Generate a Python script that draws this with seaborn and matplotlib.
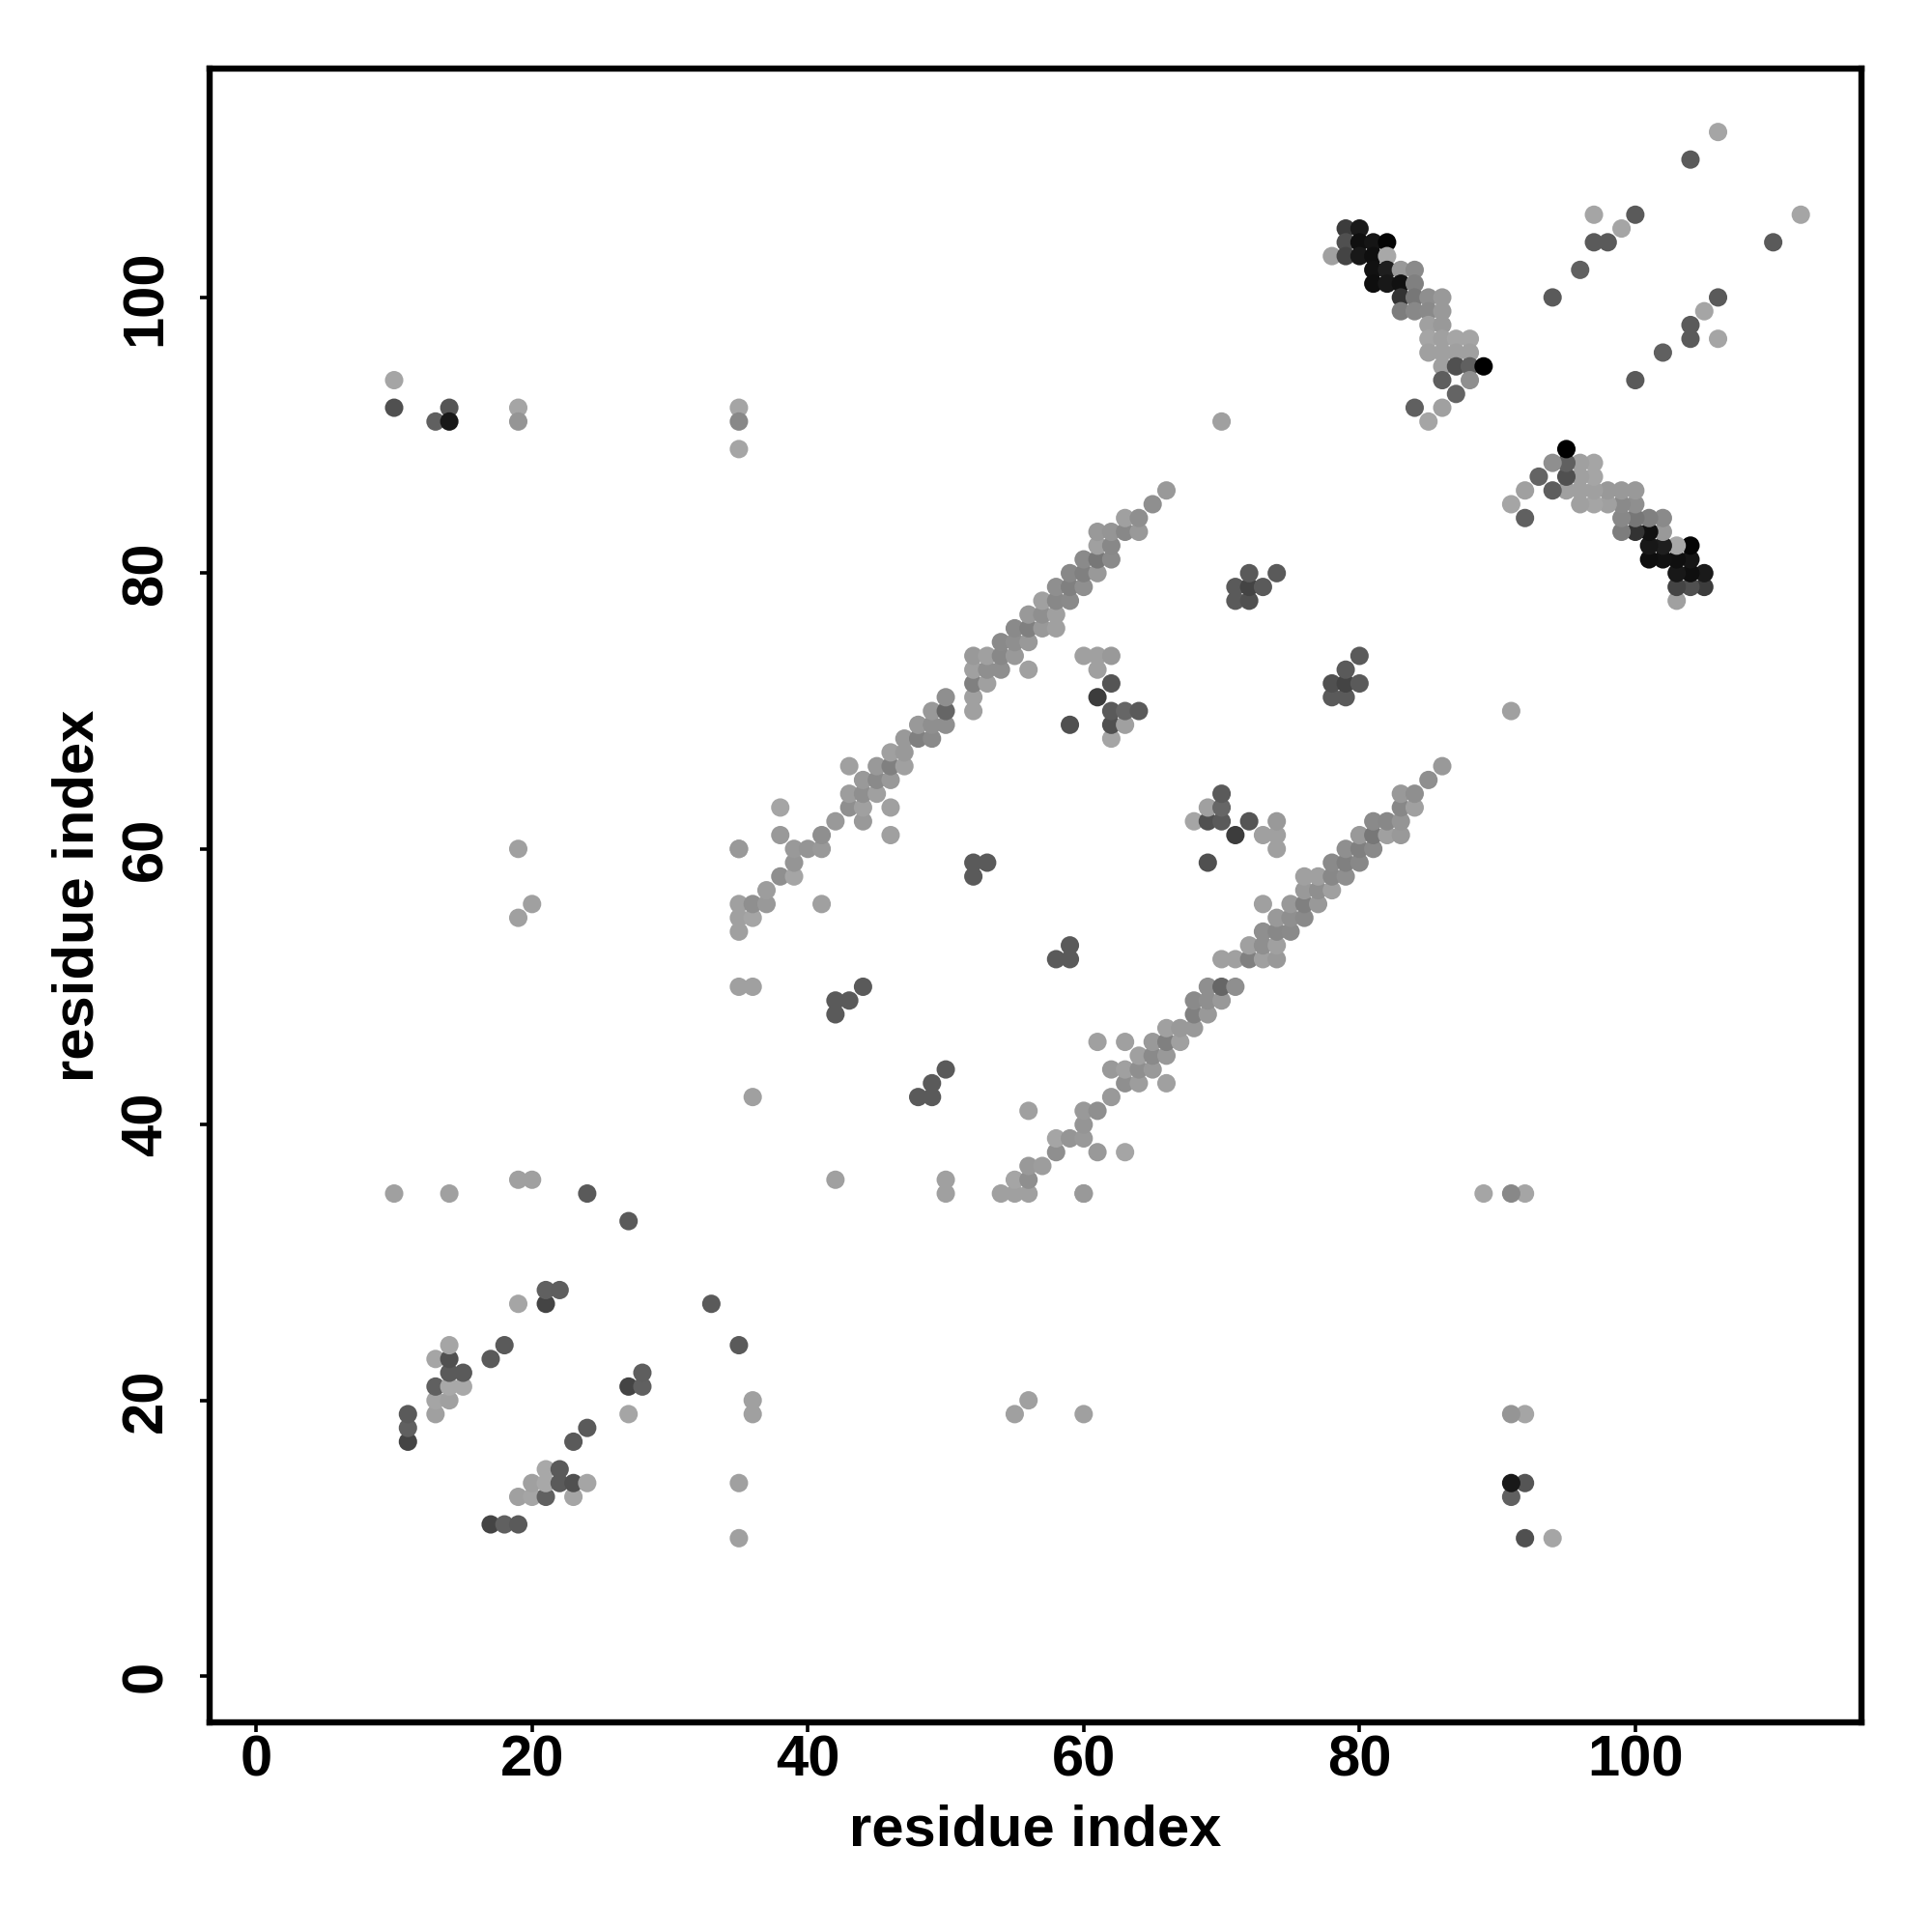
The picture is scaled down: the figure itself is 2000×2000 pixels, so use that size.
import numpy as np
import pandas as pd
import seaborn as sns
from matplotlib import pyplot as plt
from matplotlib.colors import LinearSegmentedColormap

# contacts are symmetric, only a < b is listed. score is darkness 0-255
# long range / scattered contacts
far_a = [10, 10, 13, 14, 14, 19, 19, 35, 35, 35, 70,
         10, 14, 19, 20, 24, 27, 36, 36, 35,
         19, 20, 19, 35]
far_b = [94, 92, 91, 92, 91, 92, 91, 92, 91, 89, 91,
         35, 35, 36, 36, 35, 33, 42, 50, 50,
         55, 56, 60, 60]
far_s = [90, 175, 159, 170, 231, 90, 106, 90, 119, 90, 95,
         95, 95, 95, 95, 165, 165, 95, 95, 95,
         95, 95, 95, 95]

# bottom left corner
low_a = [11, 11, 11, 13, 13, 13, 13, 14, 14, 14, 14, 14, 15, 15, 17, 18, 19, 21, 21, 22]
low_b = [17, 18, 19, 19, 20, 21, 23, 20, 21, 22, 23, 24, 21, 22, 23, 24, 27, 27, 28, 28]
low_s = [187, 159, 165, 95, 90, 159, 90, 95, 87, 165, 175, 90, 87, 165, 165, 165, 90, 187, 159, 161]

# dark islands between the bands
mid_a = [42, 42, 43, 44, 52, 52, 53, 59, 61, 62, 62, 62, 62, 63, 63, 64,
         71, 71, 72, 72, 72, 73, 74, 60, 61, 62, 61]
mid_b = [48, 49, 49, 50, 58, 59, 59, 69, 71, 68, 69, 70, 72, 69, 70, 70,
         78, 79, 78, 79, 80, 79, 80, 74, 74, 74, 73]
mid_s = [165, 165, 165, 165, 165, 165, 165, 175, 195, 90, 175, 165, 170, 95, 153, 165,
         165, 165, 175, 187, 165, 165, 165, 95, 95, 102, 95]

# long diagonal band, one line per residue b
band_a = [35,
          35, 36,
          35, 36, 37, 41,
          37,
          38, 39,
          39,
          35, 39, 40, 41,
          38, 41, 46,
          42, 44,
          38, 43, 44, 46,
          43, 44, 45,
          44, 45, 46,
          43, 45, 46, 47,
          46, 47,
          47, 48, 49,
          48, 49, 50,
          49, 50, 52,
          50, 52,
          52, 53,
          52, 53, 54, 56,
          52, 53, 54, 55,
          54, 55, 56,
          55, 56, 57, 58,
          56, 57, 58,
          57, 58, 59,
          58, 59, 60,
          59, 60, 61,
          60, 61, 62,
          61, 62,
          61, 62, 63, 64,
          63, 64,
          65,
          66]
band_b = [54,
          55, 55,
          56, 56, 56, 56,
          57,
          58, 58,
          59,
          60, 60, 60, 60,
          61, 61, 61,
          62, 62,
          63, 63, 63, 63,
          64, 64, 64,
          65, 65, 65,
          66, 66, 66, 66,
          67, 67,
          68, 68, 68,
          69, 69, 69,
          70, 70, 70,
          71, 71,
          72, 72,
          73, 73, 73, 73,
          74, 74, 74, 74,
          75, 75, 75,
          76, 76, 76, 76,
          77, 77, 77,
          78, 78, 78,
          79, 79, 79,
          80, 80, 80,
          81, 81, 81,
          82, 82,
          83, 83, 83, 83,
          84, 84,
          85,
          86]
band_s = [95,
          95, 90,
          95, 112, 102, 95,
          98,
          112, 90,
          106,
          102, 102, 106, 102,
          102, 112, 95,
          102, 102,
          90, 112, 95, 95,
          98, 112, 95,
          102, 117, 102,
          95, 102, 127, 95,
          95, 102,
          102, 127, 117,
          102, 112, 112,
          102, 153, 95,
          112, 95,
          127, 95,
          95, 112, 112, 95,
          102, 95, 119, 102,
          117, 112, 102,
          117, 127, 102, 95,
          102, 112, 95,
          95, 119, 117,
          112, 127, 112,
          119, 127, 102,
          117, 136, 117,
          95, 119,
          102, 106, 119, 102,
          95, 112,
          112,
          102]

# strong hairpin near the top right, one line per residue b
pin_a = [79, 80,
         79, 80, 81, 82,
         78, 79, 80, 81, 82,
         81, 82, 83, 84,
         81, 82, 83, 84,
         83, 84, 85, 86,
         83, 84, 85, 86,
         85, 86,
         85, 86, 87, 88,
         85, 86, 87, 88,
         86, 87, 88, 89,
         86, 88,
         87,
         84, 86,
         85,
         94, 96, 97, 98, 97, 99, 100, 104, 106]
pin_b = [105, 105,
         104, 104, 104, 104,
         103, 103, 103, 103, 103,
         102, 102, 102, 102,
         101, 101, 101, 101,
         100, 100, 100, 100,
         99, 99, 99, 99,
         98, 98,
         97, 97, 97, 97,
         96, 96, 96, 96,
         95, 95, 95, 95,
         94, 94,
         93,
         92, 92,
         91,
         100, 102, 104, 104, 106, 105, 106, 110, 112]
pin_s = [195, 229,
         175, 240, 234, 250,
         95, 187, 231, 240, 87,
         238, 225, 102, 117,
         241, 231, 238, 127,
         204, 136, 112, 102,
         130, 119, 117, 102,
         95, 102,
         90, 95, 90, 90,
         95, 95, 95, 95,
         95, 175, 159, 255,
         161, 112,
         155,
         159, 95,
         90,
         165, 159, 165, 165, 90, 90, 165, 165, 90]

x_ticks = [0, 20, 40, 60, 80, 100]
y_ticks = [0, 20, 40, 60, 80, 100]
axis_label = 'residue index'


def build_table():
    a = far_a + low_a + mid_a + band_a + pin_a
    b = far_b + low_b + mid_b + band_b + pin_b
    s = far_s + low_s + mid_s + band_s + pin_s
    df = pd.DataFrame({'i': a, 'j': b, 'score': s})
    mirror = df.rename(columns={'i': 'j', 'j': 'i'})
    return pd.concat([df, mirror], ignore_index=True)


def main():
    sns.set_theme(style='white')
    plt.rcParams['font.family'] = ['Liberation Sans', 'DejaVu Sans']

    df = build_table()
    grey = LinearSegmentedColormap.from_list('grey', ['white', 'black'])

    fig = plt.figure(figsize=(10, 10), facecolor='white')
    ax = fig.add_axes([217 / 2000, 1 - 1783 / 2000, 1710 / 2000, 1712 / 2000])

    sns.scatterplot(data=df, x='i', y='j', hue='score', palette=grey, hue_norm=(0, 255),
                    s=47, linewidth=0, legend=False, ax=ax)

    ax.set_xlim(-3.38, 116.4)
    ax.set_ylim(-3.36, 116.6)
    ax.set_xticks(x_ticks)
    ax.set_yticks(y_ticks)
    ax.tick_params(axis='x', length=3.6, width=1.3, color='black', pad=1.0, labelsize=21.5, labelcolor='black', bottom=True)
    ax.tick_params(axis='y', length=3.6, width=1.3, color='black', pad=10, labelsize=21.5, labelcolor='black', left=True)
    plt.setp(ax.get_xticklabels(), fontweight='bold')
    plt.setp(ax.get_yticklabels(), fontweight='bold', rotation=90, va='center')

    for sp in ax.spines.values():
        sp.set_visible(True)
        sp.set_linewidth(2.3)
        sp.set_color('black')

    ax.set_xlabel(axis_label, fontsize=21.5, fontweight='bold', color='black', va='center')
    ax.set_ylabel(axis_label, fontsize=21.5, fontweight='bold', color='black', va='center')
    ax.xaxis.set_label_coords(0.5, -(1895 - 1783) / 1712)
    ax.yaxis.set_label_coords(-(217 - 81) / 1710, 0.5)

    fig.savefig('out.png', dpi=200, facecolor='white')


if __name__ == "__main__":
    main()
